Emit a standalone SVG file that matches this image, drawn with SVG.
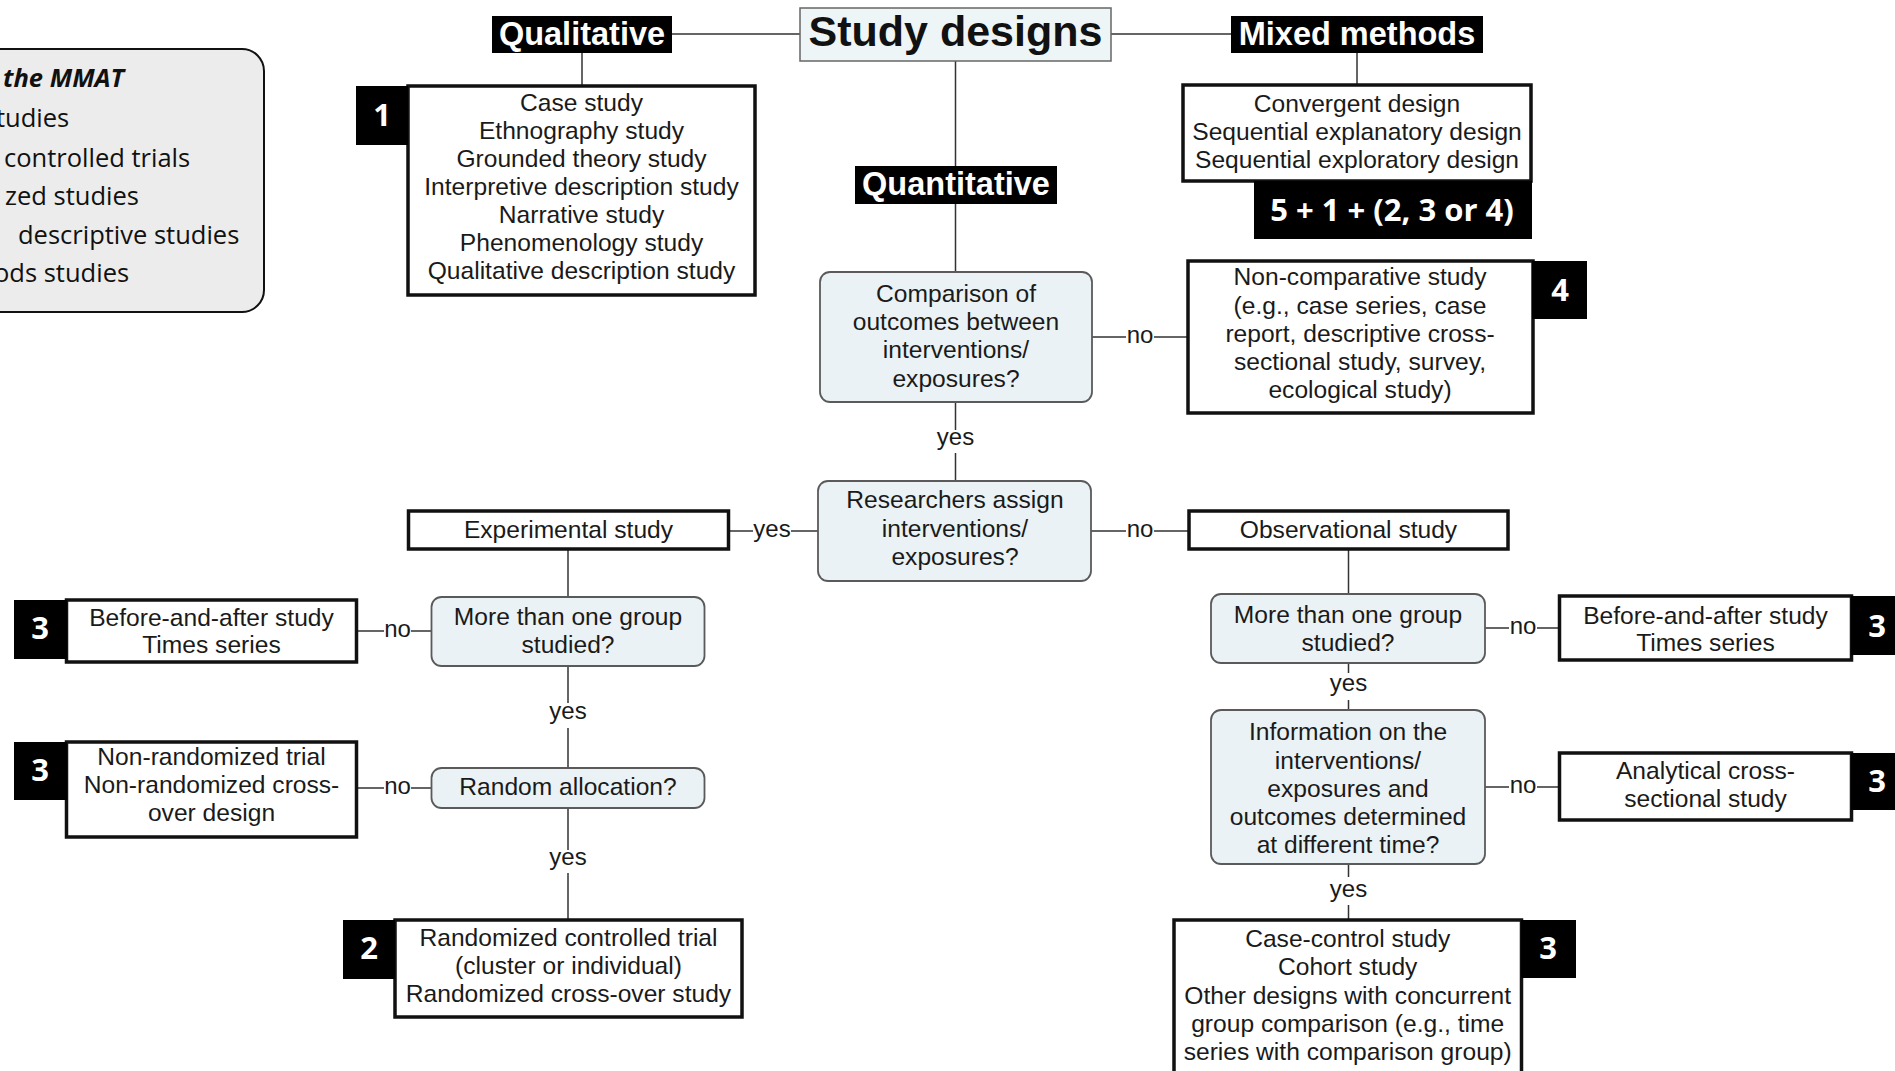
<svg xmlns="http://www.w3.org/2000/svg" width="1895" height="1071" viewBox="0 0 1895 1071">
<style>
.t{font-family:"Liberation Sans",Arial,sans-serif;font-size:24.6px;fill:#1a1a1a;text-anchor:middle}
.lbl{font-family:"Liberation Sans",Arial,sans-serif;font-size:24px;fill:#1a1a1a;text-anchor:middle}
.hd{font-family:"Liberation Sans",Arial,sans-serif;font-weight:bold;font-size:32.5px;fill:#fff;text-anchor:middle}
.num{font-family:"Open Sans","Liberation Sans",sans-serif;font-weight:bold;font-size:31px;fill:#fff;text-anchor:middle}
.lg{font-family:"Open Sans","Liberation Sans",sans-serif;font-size:25.5px;fill:#111}
.box{fill:#fff;stroke:#111;stroke-width:3.5}
.dec{fill:#eaf2f5;stroke:#5a5a5a;stroke-width:1.8}
.blk{fill:#000}
.ln{stroke:#333;stroke-width:1.5;fill:none}
</style>
<rect x="0" y="0" width="1895" height="1071" fill="#fff"/>

<g id="legend">
<rect x="-300" y="49" width="564" height="263" rx="22" fill="#ececec" stroke="#111" stroke-width="2"/>
<text class="lg" x="3" y="87" font-weight="bold" font-style="italic">the MMAT</text>
<text class="lg" x="-4" y="127">tudies</text>
<text class="lg" x="4" y="166.5">controlled trials</text>
<text class="lg" x="5" y="205">zed studies</text>
<text class="lg" x="18" y="244">descriptive studies</text>
<text class="lg" x="-6" y="282">ods studies</text>
</g>

<g id="connectors">
<path class="ln" d="M672 34H800M1111 34H1231M582 53V86M1357 53V85M955.5 61V166M955.5 204V272"/>
<path class="ln" d="M1092 337H1126M1154 337H1188"/>
<text class="lbl" x="1140" y="343">no</text>
<path class="ln" d="M955.5 402V430M955.5 453V481"/>
<text class="lbl" x="955.5" y="445">yes</text>
<path class="ln" d="M729 531H753M791 531H818"/>
<text class="lbl" x="772" y="537">yes</text>
<path class="ln" d="M1091 531H1126M1154 531H1189"/>
<text class="lbl" x="1140" y="537">no</text>
<path class="ln" d="M568 549V597"/>
<path class="ln" d="M357 631H384M411 631H431"/>
<text class="lbl" x="397.5" y="637">no</text>
<path class="ln" d="M568 666V703M568 728V768"/>
<text class="lbl" x="568" y="719">yes</text>
<path class="ln" d="M357 788H384M411 788H431"/>
<text class="lbl" x="397.5" y="794">no</text>
<path class="ln" d="M568 808V850M568 873V920"/>
<text class="lbl" x="568" y="865">yes</text>
<path class="ln" d="M1348.5 549V594"/>
<path class="ln" d="M1485 628H1509M1537 628H1559"/>
<text class="lbl" x="1523" y="634">no</text>
<path class="ln" d="M1348.5 663V673M1348.5 700V710"/>
<text class="lbl" x="1348.5" y="691">yes</text>
<path class="ln" d="M1485 787H1509M1537 787H1559"/>
<text class="lbl" x="1523" y="793">no</text>
<path class="ln" d="M1348.5 864V877M1348.5 905V920"/>
<text class="lbl" x="1348.5" y="897">yes</text>
</g>

<g id="study-designs">
<rect x="800" y="8" width="311" height="53" fill="#eef5f7" stroke="#666" stroke-width="1.5"/>
<text x="955.5" y="46" font-family="Liberation Sans, Arial, sans-serif" font-weight="bold" font-size="43" fill="#111" text-anchor="middle">Study designs</text>
</g>

<g id="qualitative">
<rect class="blk" x="492" y="16" width="180" height="37"/>
<text class="hd" x="582" y="45">Qualitative</text>
</g>

<g id="mixed-methods">
<rect class="blk" x="1231" y="16" width="252" height="37"/>
<text class="hd" x="1357" y="45">Mixed methods</text>
</g>

<g id="quantitative">
<rect class="blk" x="855" y="166" width="202" height="38"/>
<text class="hd" x="956" y="195">Quantitative</text>
</g>

<g id="qualitative-designs">
<rect class="box" x="408" y="86" width="347" height="209"/>
<text class="t" x="581.5" y="110.7">Case study</text>
<text class="t" x="581.5" y="139">Ethnography study</text>
<text class="t" x="581.5" y="167">Grounded theory study</text>
<text class="t" x="581.5" y="195">Interpretive description study</text>
<text class="t" x="581.5" y="223">Narrative study</text>
<text class="t" x="581.5" y="251">Phenomenology study</text>
<text class="t" x="581.5" y="279.3">Qualitative description study</text>
<rect class="blk" x="356" y="86" width="52" height="59"/>
<text class="num" x="382" y="126">1</text>
</g>

<g id="mixed-designs">
<rect class="box" x="1183" y="85" width="348" height="96"/>
<text class="t" x="1357" y="112">Convergent design</text>
<text class="t" x="1357" y="140">Sequential explanatory design</text>
<text class="t" x="1357" y="168">Sequential exploratory design</text>
<rect class="blk" x="1254" y="181" width="278" height="58"/>
<text class="num" x="1392" y="221" font-size="30">5 + 1 + (2, 3 or 4)</text>
</g>

<g id="comparison">
<rect class="dec" x="820" y="272" width="272" height="130" rx="10"/>
<text class="t" x="956" y="301.5">Comparison of</text>
<text class="t" x="956" y="330">outcomes between</text>
<text class="t" x="956" y="358">interventions/</text>
<text class="t" x="956" y="386.5">exposures?</text>
</g>

<g id="non-comparative">
<rect class="box" x="1188" y="261" width="345" height="152"/>
<text class="t" x="1360" y="285">Non-comparative study</text>
<text class="t" x="1360" y="313.5">(e.g., case series, case</text>
<text class="t" x="1360" y="342">report, descriptive cross-</text>
<text class="t" x="1360" y="370">sectional study, survey,</text>
<text class="t" x="1360" y="398">ecological study)</text>
<rect class="blk" x="1532" y="261" width="55" height="58"/>
<text class="num" x="1560" y="301">4</text>
</g>

<g id="researchers-assign">
<rect class="dec" x="818" y="481" width="273" height="100" rx="10"/>
<text class="t" x="955" y="508">Researchers assign</text>
<text class="t" x="955" y="536.5">interventions/</text>
<text class="t" x="955" y="565">exposures?</text>
</g>

<g id="experimental">
<rect class="box" x="408.5" y="511" width="320" height="38"/>
<text class="t" x="568.5" y="538">Experimental study</text>
</g>

<g id="observational">
<rect class="box" x="1189" y="511" width="319" height="38"/>
<text class="t" x="1348.5" y="538">Observational study</text>
</g>

<g id="exp-groups">
<rect class="dec" x="431.5" y="597" width="273" height="69" rx="10"/>
<text class="t" x="568" y="625">More than one group</text>
<text class="t" x="568" y="653">studied?</text>
</g>

<g id="exp-before-after">
<rect class="box" x="66.5" y="600" width="290" height="62"/>
<text class="t" x="211.5" y="626">Before-and-after study</text>
<text class="t" x="211.5" y="653">Times series</text>
<rect class="blk" x="14" y="600" width="53" height="59"/>
<text class="num" x="40" y="639">3</text>
</g>

<g id="random-allocation">
<rect class="dec" x="431.5" y="768" width="273" height="40" rx="10"/>
<text class="t" x="568" y="795">Random allocation?</text>
</g>

<g id="non-randomized">
<rect class="box" x="66.5" y="742" width="290" height="95"/>
<text class="t" x="211.5" y="765">Non-randomized trial</text>
<text class="t" x="211.5" y="793">Non-randomized cross-</text>
<text class="t" x="211.5" y="821">over design</text>
<rect class="blk" x="14" y="742" width="53" height="58"/>
<text class="num" x="40" y="781">3</text>
</g>

<g id="randomized">
<rect class="box" x="395" y="920" width="347" height="97"/>
<text class="t" x="568.5" y="946">Randomized controlled trial</text>
<text class="t" x="568.5" y="974">(cluster or individual)</text>
<text class="t" x="568.5" y="1002">Randomized cross-over study</text>
<rect class="blk" x="343" y="920" width="52" height="59"/>
<text class="num" x="369" y="959">2</text>
</g>

<g id="obs-groups">
<rect class="dec" x="1211" y="594" width="274" height="69" rx="10"/>
<text class="t" x="1348" y="622.5">More than one group</text>
<text class="t" x="1348" y="650.5">studied?</text>
</g>

<g id="obs-before-after">
<rect class="box" x="1559.5" y="596" width="292" height="64"/>
<text class="t" x="1705.5" y="623.5">Before-and-after study</text>
<text class="t" x="1705.5" y="651">Times series</text>
<rect class="blk" x="1851" y="596" width="60" height="59"/>
<text class="num" x="1877" y="637">3</text>
</g>

<g id="obs-timing">
<rect class="dec" x="1211" y="710" width="274" height="154" rx="10"/>
<text class="t" x="1348" y="740">Information on the</text>
<text class="t" x="1348" y="768.5">interventions/</text>
<text class="t" x="1348" y="797">exposures and</text>
<text class="t" x="1348" y="825">outcomes determined</text>
<text class="t" x="1348" y="853">at different time?</text>
</g>

<g id="analytical">
<rect class="box" x="1559.5" y="753" width="292" height="67"/>
<text class="t" x="1705.5" y="778.5">Analytical cross-</text>
<text class="t" x="1705.5" y="807">sectional study</text>
<rect class="blk" x="1851" y="753" width="60" height="57"/>
<text class="num" x="1877" y="792">3</text>
</g>

<g id="cohort">
<rect class="box" x="1174" y="920" width="347.5" height="170"/>
<text class="t" x="1347.7" y="947">Case-control study</text>
<text class="t" x="1347.7" y="975">Cohort study</text>
<text class="t" x="1347.7" y="1003.5">Other designs with concurrent</text>
<text class="t" x="1347.7" y="1032">group comparison (e.g., time</text>
<text class="t" x="1347.7" y="1060">series with comparison group)</text>
<rect class="blk" x="1521" y="920" width="55" height="58"/>
<text class="num" x="1548" y="959">3</text>
</g>
</svg>
